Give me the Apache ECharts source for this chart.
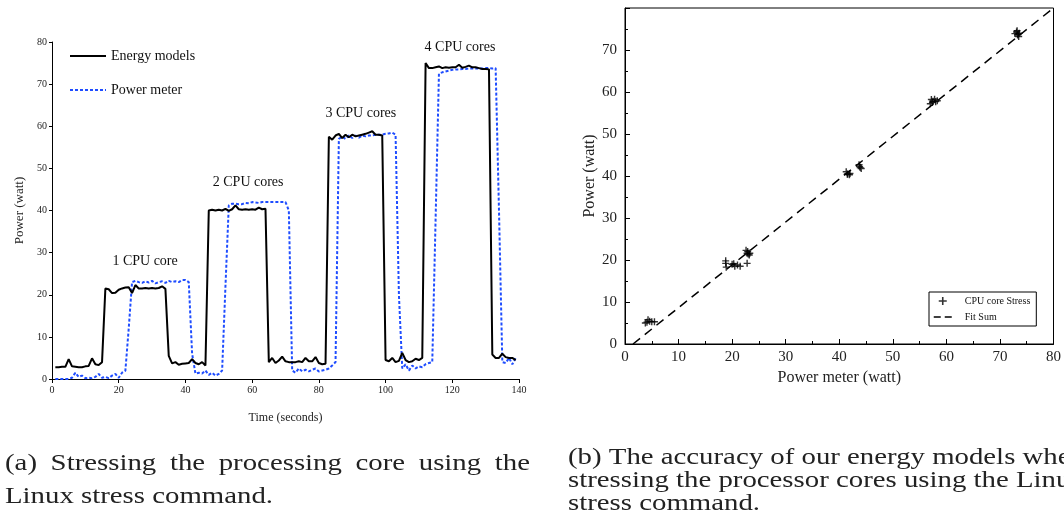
<!DOCTYPE html>
<html><head><meta charset="utf-8">
<script src="https://cdn.jsdelivr.net/npm/echarts@6/dist/echarts.min.js"></script>
<style>html,body{margin:0;padding:0;background:#fff}#c{width:1064px;height:514px}</style>
</head><body><div id="c"></div>
<script>
// ---------- data ----------
const timeSec = [1,2,3,4,5,6,7,8,9,10,11,12,13,14,15,16,17,18,19,20,21,22,23,24,25,26,27,28,29,30,
31,32,33,34,35,36,37,38,39,40,41,42,43,44,45,46,47,48,49,50,51,52,53,54,55,56,57,58,59,60,
61,62,63,64,65,66,67,68,69,70,71,72,73,74,75,76,77,78,79,80,81,82,83,84,85,86,87,88,89,90,
91,92,93,94,95,96,97,98,99,100,101,102,103,104,105,106,107,108,109,110,111,112,113,114,115,116,117,118,119,120,
121,122,123,124,125,126,127,128,129,130,131,132,133,134,135,136,137,138,139];

const energyModels = [2.8,2.8,2.9,2.9,4.7,3.0,2.9,2.8,2.8,3.0,3.1,4.9,3.5,3.3,4.0,21.5,21.3,20.4,20.5,21.2,
21.5,21.7,21.8,20.4,22.3,21.5,21.5,21.6,21.5,21.6,21.5,21.6,22.0,21.4,5.5,3.7,4.0,3.4,3.6,3.7,
3.8,4.7,3.8,3.5,4.0,3.2,40.0,40.2,40.0,40.2,40.0,40.4,39.9,40.3,41.2,40.3,40.2,40.3,40.2,40.3,
40.2,40.7,40.3,40.4,4.0,5.0,3.8,4.4,5.3,4.2,4.0,4.0,4.0,4.2,4.0,5.0,4.2,4.2,5.2,3.8,
3.5,3.6,57.5,56.8,57.8,58.2,57.2,58.0,57.4,58.0,57.6,57.8,58.0,58.2,58.5,58.8,58.0,58.0,57.8,4.5,
4.2,5.0,4.0,4.3,6.2,4.5,4.0,4.2,4.8,4.5,5.0,75.0,73.8,73.8,74.0,74.2,73.8,74.0,73.9,74.0,
74.0,74.6,73.9,74.1,74.4,74.0,74.0,73.8,73.6,73.6,73.5,5.8,5.0,5.0,6.0,5.2,5.0,5.0,4.5];

const powerMeter = [0.0,0.0,0.0,0.0,0.0,0.3,1.5,0.5,0.8,0.2,0.3,0.2,0.5,1.2,0.3,0.5,0.2,0.8,1.2,0.3,
1.5,2.0,12.0,23.0,23.3,23.0,22.8,23.2,22.9,23.3,22.7,23.0,23.2,22.8,23.3,23.0,23.2,23.0,23.5,23.5,
23.0,6.0,1.3,1.5,1.3,2.0,1.0,1.5,0.8,1.2,2.0,22.0,41.2,41.6,41.6,41.5,41.5,41.8,41.7,42.0,
41.9,41.8,42.0,42.0,42.0,42.0,42.0,42.0,42.0,42.0,40.0,2.0,1.5,2.5,1.8,2.2,1.8,2.2,2.5,1.8,
2.0,2.2,2.5,3.2,4.0,57.0,57.5,57.0,57.8,57.2,57.8,57.3,57.8,57.6,57.8,57.8,58.0,58.0,58.0,58.2,
58.3,58.5,58.0,20.0,2.5,3.5,2.0,3.2,2.5,3.0,2.8,3.5,3.8,4.0,38.0,72.5,72.8,73.0,73.2,73.4,
73.5,73.5,73.6,73.6,73.7,73.7,73.7,73.7,73.7,73.8,73.8,73.7,73.8,40.0,4.0,3.8,5.0,3.5,5.0];

const annotations = [
  {text:'1 CPU core',  t:27.9,  p:28.0},
  {text:'2 CPU cores', t:58.8,  p:46.8},
  {text:'3 CPU cores', t:92.6,  p:63.1},
  {text:'4 CPU cores', t:122.3, p:78.8}
];

// scatter: [power meter, model]
const stressMeter = [3.8,4.3,4.6,5.0,5.5,4.1, 18.8,18.9,18.8,20.0,20.5,21.0,21.5,20.3, 22.8,
  22.6,22.8,23.0,23.3,22.9,23.2, 41.3,41.6,41.9,42.0,41.5, 43.7,43.9,44.1,43.8,
  57.0,57.2,57.5,57.8,58.0,58.3,57.4, 72.8,73.1,73.3,73.5,73.6,73.2,73.4];
const stressModel = [5.0,5.8,5.4,5.3,5.3,5.2, 19.8,18.3,19.2,19.0,18.5,18.8,18.5,19.1, 19.2,
  22.3,21.6,21.4,21.6,22.0,21.2, 41.0,40.5,40.3,40.6,40.4, 42.7,42.0,41.8,42.3,
  57.2,58.2,57.8,58.3,57.7,57.9,57.5, 73.9,74.3,73.6,73.2,74.0,74.6,73.8];
const fitMeter = [1.5, 80];
const fitModel = [0, 80];

const captionA = ['(a) Stressing the processing core using the', 'Linux stress command.'];
const captionB = ['(b) The accuracy of our energy models when', 'stressing the processor cores using the Linux', 'stress command.'];

// ---------- chart ----------
const serif = 'Liberation Serif';
const chart = echarts.init(document.getElementById('c'), null, {renderer:'canvas'});

const pair = (xs, ys) => xs.map((x,i)=>[x, ys[i]]);
const plusPath = 'path://M-0.8,-4H0.8V4H-0.8Z M-4,-0.8H4V0.8H-4Z';

// caption layout helpers (text only)
const mctx = document.createElement('canvas').getContext('2d');
function tw(s, size){ mctx.font = size + 'px "' + serif + '"'; return mctx.measureText(s).width; }
const capSize = 23;
const capScale = 268 / tw(captionA[1], capSize);
const graphics = [];
function capLine(s, x, y, justifyWidth){
  const font = capSize + 'px "' + serif + '"';
  if (!justifyWidth){
    graphics.push({type:'text', x:x, y:y, scaleX:capScale,
      style:{text:s, font:font, fill:'#222', verticalAlign:'middle'}});
    return;
  }
  const words = s.split(' ');
  const widths = words.map(w => tw(w, capSize) * capScale);
  const total = widths.reduce((a,b)=>a+b,0);
  const gap = (justifyWidth - total) / (words.length - 1);
  let cx = x;
  words.forEach((w,i)=>{
    graphics.push({type:'text', x:cx, y:y, scaleX:capScale,
      style:{text:w, font:font, fill:'#222', verticalAlign:'middle'}});
    cx += widths[i] + gap;
  });
}
capLine(captionA[0], 5, 464, 525);
capLine(captionA[1], 5, 497);
capLine(captionB[0], 568, 458);
capLine(captionB[1], 568, 481);
capLine(captionB[2], 568, 504);

const axisTxt = {fontFamily: serif, color:'#222'};
const noSym = {opacity:0};

chart.setOption({
  animation:false,
  backgroundColor:'#fff',
  textStyle:{fontFamily: serif},
  grid:[
    {left:52, top:42, width:467, height:337, containLabel:false},
    {left:625, top:8, width:429, height:336, show:true, borderColor:'#000', borderWidth:1, containLabel:false}
  ],
  legend:[
    {left:69, top:49, orient:'vertical', itemWidth:36, itemHeight:14, itemGap:20, padding:0,
     data:[{name:'Energy models', itemStyle:noSym},{name:'Power meter', itemStyle:noSym}],
     textStyle:{fontFamily:serif, fontSize:14, color:'#111'}},
    {left:929, top:292, orient:'vertical', itemWidth:18, itemHeight:8, itemGap:6,
     padding:[4,6,4,4], borderColor:'#000', borderWidth:1, backgroundColor:'#fff',
     data:[{name:'CPU core Stress', icon: plusPath},
           {name:'Fit Sum', itemStyle:noSym, lineStyle:{type:[7,4], width:1.5, color:'#000'}}],
     textStyle:{fontFamily:serif, fontSize:10, color:'#111', padding:[0,0,0,8]}}
  ],
  xAxis:[
    {gridIndex:0, type:'value', min:0, max:140, interval:20,
     axisLine:{lineStyle:{color:'#000', width:1}}, axisTick:{length:4, lineStyle:{color:'#000'}},
     splitLine:{show:false}, axisLabel:Object.assign({fontSize:10, margin:6}, axisTxt),
     name:'Time (seconds)', nameLocation:'middle', nameGap:33, nameTextStyle:Object.assign({fontSize:12}, axisTxt)},
    {gridIndex:1, type:'value', min:0, max:80, interval:10,
     axisLine:{lineStyle:{color:'#000', width:1}}, axisTick:{inside:true, length:5, lineStyle:{color:'#000'}},
     minorTick:{show:true, splitNumber:2, length:3, lineStyle:{color:'#000'}},
     splitLine:{show:false}, axisLabel:Object.assign({fontSize:15, margin:6}, axisTxt),
     name:'Power meter (watt)', nameLocation:'middle', nameGap:26, nameTextStyle:Object.assign({fontSize:16}, axisTxt)}
  ],
  yAxis:[
    {gridIndex:0, type:'value', min:0, max:80, interval:10,
     axisLine:{show:true, lineStyle:{color:'#000', width:1}}, axisTick:{show:true, length:3, lineStyle:{color:'#000'}},
     splitLine:{show:false}, axisLabel:Object.assign({fontSize:10, margin:5}, axisTxt),
     name:'Power (watt)', nameLocation:'middle', nameGap:26, nameTextStyle:Object.assign({fontSize:13}, axisTxt)},
    {gridIndex:1, type:'value', min:0, max:80, interval:10,
     axisLine:{show:true, lineStyle:{color:'#000', width:1}}, axisTick:{show:true, inside:true, length:5, lineStyle:{color:'#000'}},
     minorTick:{show:true, splitNumber:2, length:3, lineStyle:{color:'#000'}},
     splitLine:{show:false},
     axisLabel:Object.assign({fontSize:15, margin:8, formatter:v => v===80 ? '' : String(v)}, axisTxt),
     name:'Power (watt)', nameLocation:'middle', nameGap:25, nameTextStyle:Object.assign({fontSize:16}, axisTxt)}
  ],
  series:[
    {name:'Energy models', type:'line', xAxisIndex:0, yAxisIndex:0, symbol:'none',
     data:pair(timeSec, energyModels), lineStyle:{color:'#000', width:2}, itemStyle:{color:'#000'}, z:3,
     markPoint:{symbol:'circle', symbolSize:0, silent:true,
       data: annotations.map(a => ({coord:[a.t, a.p], value:a.text})),
       label:{show:true, formatter:p => p.value, fontFamily:serif, fontSize:14, color:'#111', position:'inside'}}},
    {name:'Power meter', type:'line', xAxisIndex:0, yAxisIndex:0, symbol:'none',
     data:pair(timeSec, powerMeter), lineStyle:{color:'#1f4dff', width:2, type:[3,2]}, itemStyle:{color:'#1f4dff'}, z:2},
    {name:'CPU core Stress', type:'scatter', xAxisIndex:1, yAxisIndex:1, symbol:plusPath, symbolSize:7,
     data:pair(stressMeter, stressModel), itemStyle:{color:'#000'}},
    {name:'Fit Sum', type:'line', xAxisIndex:1, yAxisIndex:1, symbol:'none',
     data:pair(fitMeter, fitModel), lineStyle:{color:'#000', width:1.5, type:[9,6]}, itemStyle:{color:'#000'}}
  ],
  graphic: graphics
});
</script></body></html>
